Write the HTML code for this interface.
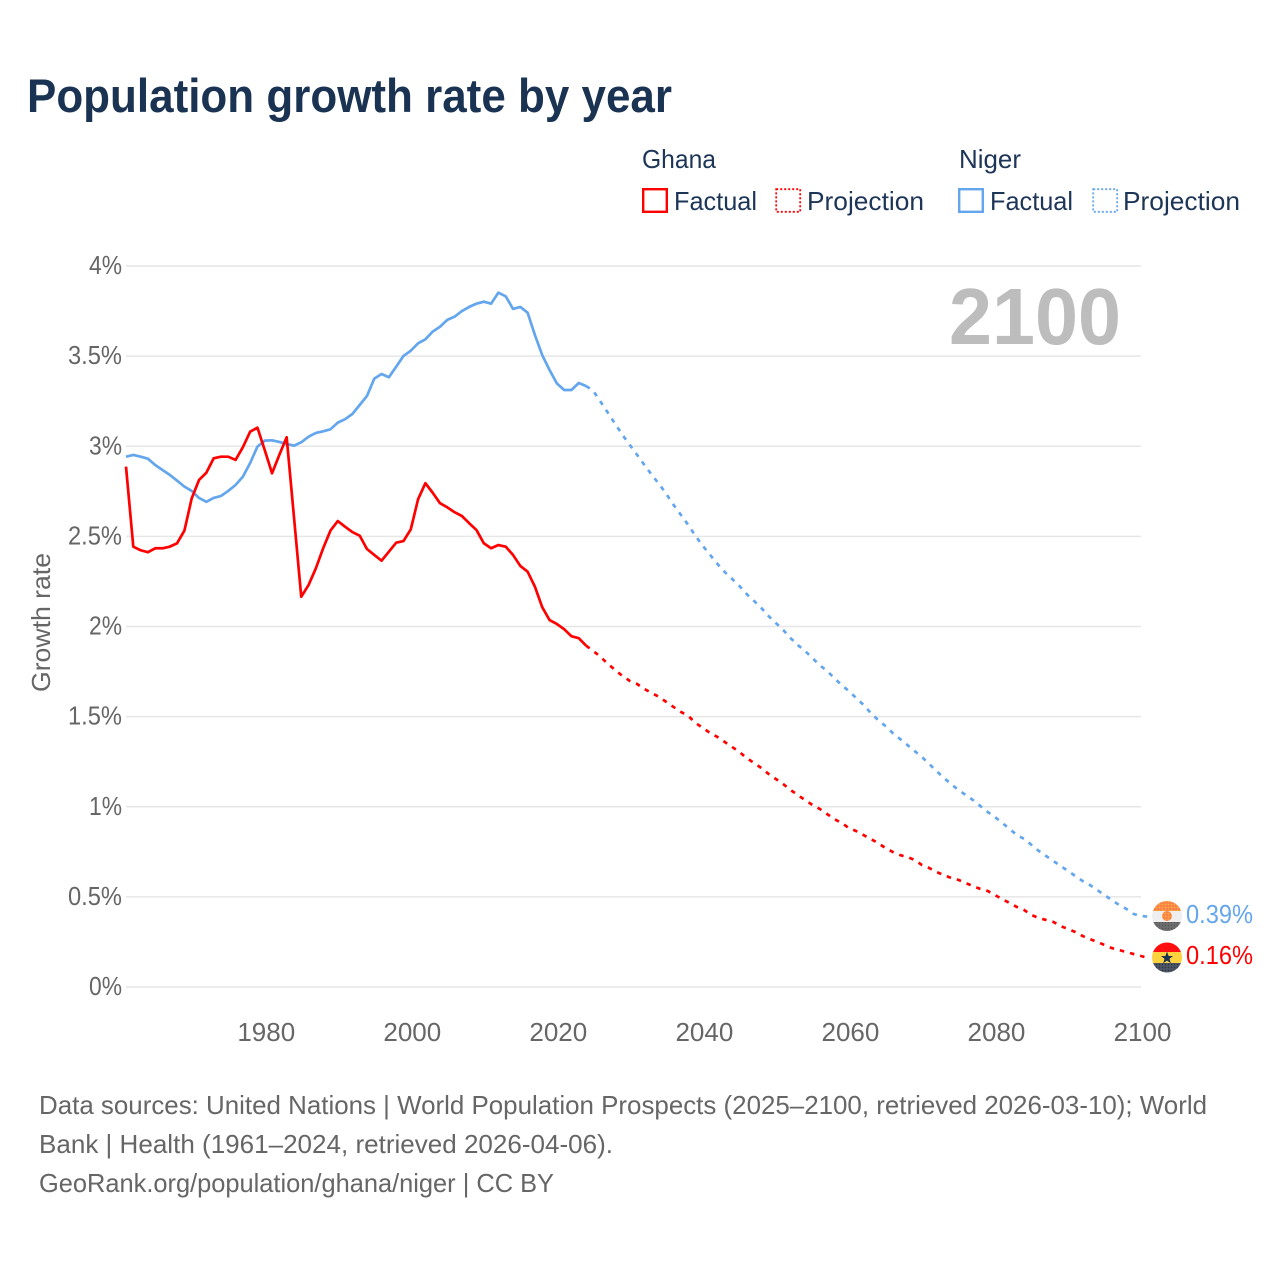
<!DOCTYPE html>
<html lang="en">
<head>
<meta charset="utf-8">
<title>Population growth rate by year</title>
<style>
  html, body { margin: 0; padding: 0; background: #fff; }
  svg { display: block; font-family: "Liberation Sans", sans-serif; }
</style>
</head>
<body>
<svg id="chart" width="1280" height="1280" viewBox="0 0 1280 1280" xmlns="http://www.w3.org/2000/svg">
  <defs>
    <pattern id="dots-dark" width="3" height="3" patternUnits="userSpaceOnUse"><rect width="3" height="3" fill="#4c5564"/><circle cx="1.5" cy="1.5" r="0.7" fill="#2b3442"/></pattern>
    <pattern id="dots-gray" width="3" height="3" patternUnits="userSpaceOnUse"><rect width="3" height="3" fill="#6d6d6d"/><circle cx="1.5" cy="1.5" r="0.7" fill="#555"/></pattern>
    <pattern id="dots-orange" width="3" height="3" patternUnits="userSpaceOnUse"><rect width="3" height="3" fill="#f9814a"/><circle cx="1.5" cy="1.5" r="0.9" fill="#fcb23c"/></pattern>
    <clipPath id="clip-niger"><circle cx="1167" cy="916" r="15"/></clipPath>
    <clipPath id="clip-ghana"><circle cx="1167" cy="957.5" r="15"/></clipPath>
  </defs>

  <rect width="1280" height="1280" fill="#fff"/>

  <text x="27" y="112" font-size="47" font-weight="700" fill="#1a3352" textLength="645" lengthAdjust="spacingAndGlyphs">Population growth rate by year</text>

  <g font-size="26" fill="#1d3557">
    <text x="642" y="168" textLength="74" lengthAdjust="spacingAndGlyphs">Ghana</text>
    <text x="959" y="168" textLength="62" lengthAdjust="spacingAndGlyphs">Niger</text>

    <g>
      <rect x="643.2" y="189.2" width="23.6" height="22.6" fill="none" stroke="#ff0000" stroke-width="2.4"/>
      <text x="674" y="210" textLength="83" lengthAdjust="spacingAndGlyphs">Factual</text>
    </g>
    <g>
      <rect x="776.2" y="189.2" width="24" height="22.6" fill="none" stroke="#ff0000" stroke-width="1.8" stroke-dasharray="2 2"/>
      <text x="807" y="210" textLength="117" lengthAdjust="spacingAndGlyphs">Projection</text>
    </g>
    <g>
      <rect x="959.2" y="189.2" width="23.6" height="22.6" fill="none" stroke="#63a6ee" stroke-width="2.4"/>
      <text x="990" y="210" textLength="83" lengthAdjust="spacingAndGlyphs">Factual</text>
    </g>
    <g>
      <rect x="1093.2" y="189.2" width="24" height="22.6" fill="none" stroke="#63a6ee" stroke-width="1.8" stroke-dasharray="2 2"/>
      <text x="1123" y="210" textLength="117" lengthAdjust="spacingAndGlyphs">Projection</text>
    </g>
  </g>

  <g id="grid"></g>
  <g id="y-ticks"></g>
  <g id="x-ticks"></g>

  <text transform="translate(50 692) rotate(-90)" font-size="26" fill="#666" textLength="139" lengthAdjust="spacingAndGlyphs">Growth rate</text>

  <text x="949" y="344" font-size="80" font-weight="700" fill="#bdbdbd" textLength="172" lengthAdjust="spacingAndGlyphs">2100</text>

  <g id="series"></g>

  <g clip-path="url(#clip-niger)">
    <rect x="1150" y="900" width="34" height="11" fill="url(#dots-orange)"/>
    <rect x="1150" y="911" width="34" height="12" fill="#eeeeee"/>
    <rect x="1150" y="922" width="34" height="10" fill="url(#dots-gray)"/>
    <circle cx="1167" cy="916" r="5" fill="url(#dots-orange)"/>
  </g>
  <g clip-path="url(#clip-ghana)">
    <rect x="1150" y="942" width="34" height="11" fill="#ff0f0f"/>
    <rect x="1150" y="952" width="34" height="11" fill="#fdd23f"/>
    <rect x="1150" y="963" width="34" height="10" fill="url(#dots-dark)"/>
    <polygon points="1167,951.5 1168.6,956 1173,956 1169.5,958.8 1170.8,963.2 1167,960.6 1163.2,963.2 1164.5,958.8 1161,956 1165.4,956" fill="#1a3352"/>
  </g>

  <text x="1186" y="923" font-size="26" fill="#63a6ee" textLength="67" lengthAdjust="spacingAndGlyphs">0.39%</text>
  <text x="1186" y="964" font-size="26" fill="#ff0000" textLength="67" lengthAdjust="spacingAndGlyphs">0.16%</text>

  <g font-size="26" fill="#666">
    <text x="39" y="1114" textLength="1168" lengthAdjust="spacingAndGlyphs">Data sources: United Nations | World Population Prospects (2025–2100, retrieved 2026-03-10); World</text>
    <text x="39" y="1153" textLength="574" lengthAdjust="spacingAndGlyphs">Bank | Health (1961–2024, retrieved 2026-04-06).</text>
    <text x="39" y="1192" textLength="515" lengthAdjust="spacingAndGlyphs">GeoRank.org/population/ghana/niger | CC BY</text>
  </g>
</svg>

<script>
const yTickValues = [0, 0.5, 1, 1.5, 2, 2.5, 3, 3.5, 4];
const yTickLabels = ["0%", "0.5%", "1%", "1.5%", "2%", "2.5%", "3%", "3.5%", "4%"];
const xTickYears = [1980, 2000, 2020, 2040, 2060, 2080, 2100];
const factualStartYear = 1961;
const projectionStartYear = 2024;

const ghanaFactual = [
  2.887, 2.443, 2.423, 2.412, 2.434, 2.434, 2.443, 2.462, 2.532,
  2.711, 2.813, 2.853, 2.933, 2.942, 2.942, 2.924, 2.994, 3.081, 3.103,
  2.979, 2.850, 2.952, 3.050, 2.609, 2.165, 2.230, 2.323, 2.434, 2.532,
  2.585, 2.554, 2.524, 2.504, 2.430, 2.397, 2.365, 2.415, 2.465, 2.474,
  2.539, 2.706, 2.795, 2.742, 2.684, 2.661, 2.634, 2.613, 2.573, 2.535,
  2.462, 2.434, 2.452, 2.443, 2.397, 2.336, 2.304, 2.221, 2.107, 2.036,
  2.014, 1.985, 1.946, 1.935, 1.894
];
const ghanaProjection = [
  1.894,
  1.864, 1.831, 1.792, 1.759, 1.725, 1.698, 1.681, 1.653, 1.631, 1.609,
  1.581, 1.553, 1.526, 1.504, 1.465, 1.437, 1.409, 1.387, 1.359, 1.332,
  1.304, 1.270, 1.243, 1.215, 1.182, 1.154, 1.126, 1.093, 1.065, 1.037,
  1.010, 0.988, 0.960, 0.932, 0.910, 0.882, 0.865, 0.843, 0.821, 0.799,
  0.771, 0.749, 0.732, 0.721, 0.705, 0.677, 0.660, 0.638, 0.621, 0.605,
  0.594, 0.577, 0.560, 0.544, 0.533, 0.510, 0.488, 0.466, 0.444, 0.427,
  0.399, 0.383, 0.372, 0.361, 0.338, 0.322, 0.305, 0.283, 0.266, 0.250,
  0.233, 0.216, 0.205, 0.194, 0.183, 0.172, 0.160
];
const nigerFactual = [
  2.942, 2.952, 2.942, 2.931, 2.896, 2.868, 2.841, 2.809, 2.776,
  2.752, 2.713, 2.692, 2.713, 2.724, 2.752, 2.785, 2.831, 2.907, 2.998,
  3.031, 3.033, 3.024, 3.013, 3.003, 3.022, 3.053, 3.074, 3.083, 3.094,
  3.131, 3.150, 3.179, 3.229, 3.279, 3.375, 3.401, 3.383, 3.441, 3.501,
  3.530, 3.571, 3.593, 3.636, 3.663, 3.701, 3.719, 3.750, 3.773, 3.791,
  3.802, 3.791, 3.852, 3.832, 3.762, 3.773, 3.741, 3.617, 3.506, 3.423,
  3.349, 3.312, 3.312, 3.351, 3.334
];
const nigerProjection = [
  3.334,
  3.307, 3.246, 3.185, 3.124, 3.062, 3.007, 2.952, 2.896, 2.841, 2.791,
  2.735, 2.674, 2.619, 2.563, 2.502, 2.447, 2.397, 2.347, 2.302, 2.264,
  2.225, 2.180, 2.142, 2.103, 2.058, 2.019, 1.981, 1.936, 1.897, 1.864,
  1.825, 1.786, 1.753, 1.714, 1.675, 1.642, 1.603, 1.565, 1.520, 1.481,
  1.448, 1.409, 1.376, 1.343, 1.309, 1.276, 1.237, 1.198, 1.160, 1.126,
  1.093, 1.065, 1.037, 1.004, 0.971, 0.943, 0.910, 0.877, 0.843, 0.821,
  0.788, 0.755, 0.727, 0.699, 0.671, 0.644, 0.616, 0.588, 0.566, 0.538,
  0.510, 0.483, 0.455, 0.433, 0.405, 0.394, 0.390
];

const NS = "http://www.w3.org/2000/svg";
const xScale = function (year) { return 126 + (year - 1961) * (1141 - 126) / (2100 - 1961); };
const yScale = function (value) { return 987 - value * (987 - 266) / 4; };

const gridGroup = document.getElementById("grid");
const yTickGroup = document.getElementById("y-ticks");
const xTickGroup = document.getElementById("x-ticks");
const seriesGroup = document.getElementById("series");

yTickValues.forEach(function (value, i) {
  const line = document.createElementNS(NS, "line");
  
  
  line.setAttribute("x1", 126);
  line.setAttribute("x2", 1141);
  line.setAttribute("y1", yScale(value));
  line.setAttribute("y2", yScale(value));
  line.setAttribute("stroke", "#e6e6e6");
  line.setAttribute("stroke-width", "1.4");
  gridGroup.appendChild(line);

  const label = document.createElementNS(NS, "text");
  
  
  const width = yTickLabels[i].length > 2 ? 54 : 33;
  label.setAttribute("x", 122 - width);
  label.setAttribute("y", yScale(value) + 8);
  label.setAttribute("font-size", "26");
  label.setAttribute("fill", "#666");
  label.setAttribute("textLength", width);
  label.setAttribute("lengthAdjust", "spacingAndGlyphs");
  label.textContent = yTickLabels[i];
  yTickGroup.appendChild(label);
});

xTickYears.forEach(function (year) {
  const label = document.createElementNS(NS, "text");
  
  
  label.setAttribute("x", xScale(year) + 1.5);
  label.setAttribute("y", 1041);
  label.setAttribute("font-size", "26");
  label.setAttribute("fill", "#666");
  label.setAttribute("text-anchor", "middle");
  label.textContent = String(year);
  xTickGroup.appendChild(label);
});

function linePath(values, startYear) {
  return values.map(function (value, i) {
    return (i ? "L" : "M") + xScale(startYear + i).toFixed(2) + " " + yScale(value).toFixed(2);
  }).join("");
}

function addSeries(name, values, startYear, color, dash) {
  const path = document.createElementNS(NS, "path");
  
  
  path.setAttribute("d", linePath(values, startYear));
  path.setAttribute("fill", "none");
  path.setAttribute("stroke", color);
  path.setAttribute("stroke-width", "2.7");
  path.setAttribute("stroke-linejoin", "round");
  if (dash) path.setAttribute("stroke-dasharray", dash);
  seriesGroup.appendChild(path);
}

addSeries("niger-factual-line", nigerFactual, factualStartYear, "#63a6ee", null);
addSeries("niger-projection-line", nigerProjection, projectionStartYear, "#63a6ee", "4.5 6");
addSeries("ghana-factual-line", ghanaFactual, factualStartYear, "#ff0000", null);
addSeries("ghana-projection-line", ghanaProjection, projectionStartYear, "#ff0000", "4.5 6");
</script>
</body>
</html>
